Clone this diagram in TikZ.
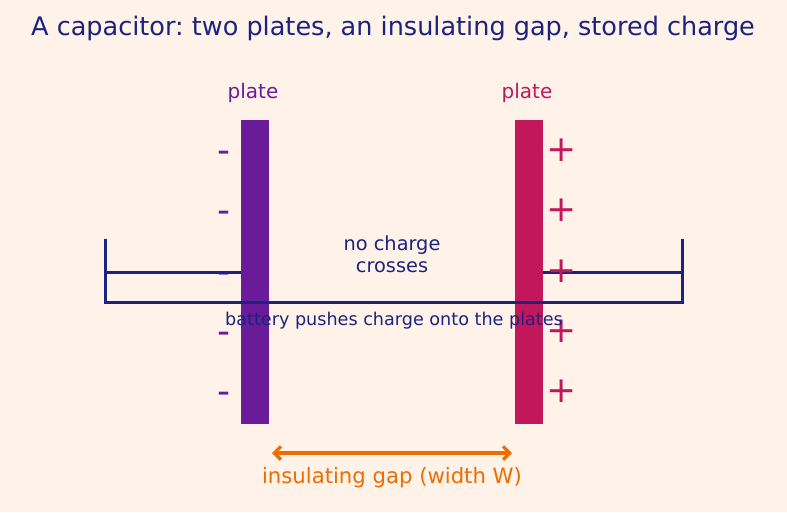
\documentclass[tikz,border=0pt]{standalone}
\usepackage{fontspec}
\setmainfont{DejaVu Sans}
\usetikzlibrary{arrows.meta}
\frenchspacing
\definecolor{bgc}{HTML}{FFF2E8}
\definecolor{navy}{HTML}{1A237E}
\definecolor{purp}{HTML}{6A1B9A}
\definecolor{mag}{HTML}{C2185B}
\definecolor{orng}{HTML}{EF6C00}
\tikzset{
  platebox/.style={fill=#1, draw=none, inner sep=0pt, minimum width=21pt, minimum height=228pt},
  chargesign/.style={text=#1, inner sep=0pt, anchor=base, font=\fontsize{27}{30}\selectfont},
  wire/.style={draw=navy, line width=2.25pt, line cap=butt, line join=miter},
  lbl/.style={inner sep=0pt, anchor=base, font=\fontsize{#1}{#1}\selectfont},
  gaparrow/.style={draw=orng, line width=2.6pt, {Straight Barb[length=5pt,width=10pt,line width=2.4pt]}-{Straight Barb[length=5pt,width=10pt,line width=2.4pt]}}
}
\begin{document}
\begin{tikzpicture}[x=0.75pt,y=-0.75pt]
\fill[bgc] (0,0) rectangle (787,512);
\useasboundingbox (0,0) rectangle (787,512);

\node[lbl=19.15, text=navy] (title) at (393,35) {A capacitor: two plates, an insulating gap, stored charge};

\node[platebox=purp] (pl) at (255,272) {};
\node[platebox=mag] (pr) at (528.5,272) {};

\node[lbl=15, text=purp] (labl) at (253,98.5) {plate};
\node[lbl=15, text=mag] (labr) at (527,98.5) {plate};

\foreach \yy/\nm in {150/a,210/b,271/c,331/d,391/e}{
  \node[chargesign=purp] (m\nm) at (223.5,\yy+12.5) {-};
}

% wires
\coordinate (wtl) at (105,239);
\coordinate (wml) at (105,272);
\coordinate (wbl) at (105,302);
\coordinate (wtr) at (682,239);
\coordinate (wmr) at (682,272);
\coordinate (wbr) at (682,302);
\draw[wire] (wtl) -- (wbl) -- (wbr) -- (wtr);
\draw[wire] (wml) -- (pl.west);
\draw[wire] (pr.east) -- (wmr);

\foreach \yy/\nm in {150/a,210/b,271/c,331/d,391/e}{
  \node[chargesign=mag] (p\nm) at (561.5,\yy+11.5) {+};
}

\node[lbl=14.5, text=navy] (nc1) at (392,250) {no charge};
\node[lbl=14.5, text=navy] (nc2) at (392,272) {crosses};
\node[lbl=13.2, text=navy] (batt) at (394,325.5) {battery pushes charge onto the plates};

\coordinate (ga) at (272,453);
\coordinate (gb) at (512,453);
\draw[gaparrow] (ga) -- (gb);
\node[lbl=15.9, text=orng] (gaplbl) at (392,483) {insulating gap (width W)};
\end{tikzpicture}
\end{document}
